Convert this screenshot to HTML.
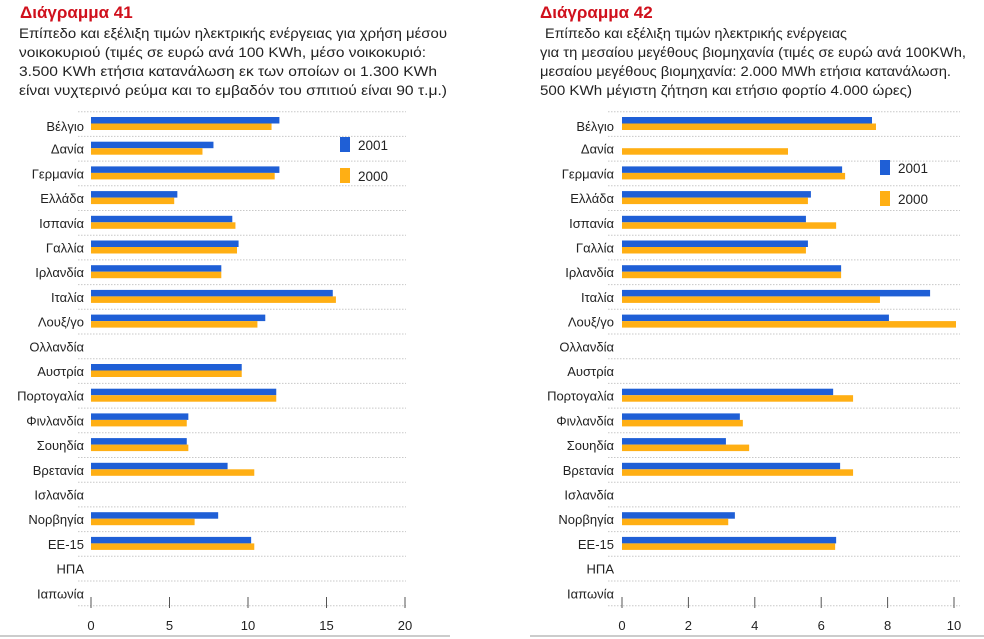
<!DOCTYPE html>
<html><head><meta charset="utf-8"><style>
html,body{margin:0;padding:0;background:#fff;width:984px;height:639px;overflow:hidden}
svg{display:block}
text{font-family:"Liberation Sans","DejaVu Sans",sans-serif}
</style></head><body>
<svg id="s" width="984" height="639">
<text x="20" y="18" font-size="17" font-weight="bold" fill="#d0101c">Διάγραμμα 41</text>
<g font-size="14" fill="#222" lengthAdjust="spacingAndGlyphs">
<text x="19" y="38" textLength="428" lengthAdjust="spacingAndGlyphs">Επίπεδο και εξέλιξη τιμών ηλεκτρικής ενέργειας για χρήση μέσου</text>
<text x="19" y="57" textLength="407" lengthAdjust="spacingAndGlyphs">νοικοκυριού (τιμές σε ευρώ ανά 100 KWh, μέσο νοικοκυριό:</text>
<text x="19" y="76" textLength="418" lengthAdjust="spacingAndGlyphs">3.500 KWh ετήσια κατανάλωση εκ των οποίων οι 1.300 KWh</text>
<text x="19" y="95" textLength="428" lengthAdjust="spacingAndGlyphs">είναι νυχτερινό ρεύμα και το εμβαδόν του σπιτιού είναι 90 τ.μ.)</text>
</g>
<text x="540" y="18" font-size="17" font-weight="bold" fill="#d0101c">Διάγραμμα 42</text>
<g font-size="14" fill="#222">
<text x="545" y="38" textLength="302" lengthAdjust="spacingAndGlyphs">Επίπεδο και εξέλιξη τιμών ηλεκτρικής ενέργειας</text>
<text x="540" y="57" textLength="426" lengthAdjust="spacingAndGlyphs">για τη μεσαίου μεγέθους βιομηχανία (τιμές σε ευρώ ανά 100KWh,</text>
<text x="540" y="76" textLength="411" lengthAdjust="spacingAndGlyphs">μεσαίου μεγέθους βιομηχανία: 2.000 MWh ετήσια κατανάλωση.</text>
<text x="540" y="95" textLength="372" lengthAdjust="spacingAndGlyphs">500 KWh μέγιστη ζήτηση και ετήσιο φορτίο 4.000 ώρες)</text>
</g>
<line x1="0" y1="636" x2="450" y2="636" stroke="#bbb" stroke-width="1.5"/>
<line x1="530" y1="636" x2="984" y2="636" stroke="#bbb" stroke-width="1.5"/>
</svg>
<script>
const countries=["Βέλγιο","Δανία","Γερμανία","Ελλάδα","Ισπανία","Γαλλία","Ιρλανδία","Ιταλία","Λουξ/γο","Ολλανδία","Αυστρία","Πορτογαλία","Φινλανδία","Σουηδία","Βρετανία","Ισλανδία","Νορβηγία","ΕΕ-15","ΗΠΑ","Ιαπωνία"];
const left2001=[12.0,7.8,12.0,5.5,9.0,9.4,8.3,15.4,11.1,null,9.6,11.8,6.2,6.1,8.7,null,8.1,10.2,null,null];
const left2000=[11.5,7.1,11.7,5.3,9.2,9.3,8.3,15.6,10.6,null,9.6,11.8,6.1,6.2,10.4,null,6.6,10.4,null,null];
const leftTicks=[0,5,10,15,20];
const right2001=[7.53,null,6.63,5.69,5.54,5.6,6.6,9.28,8.04,null,null,6.36,3.55,3.13,6.57,null,3.4,6.45,null,null];
const right2000=[7.65,5.0,6.72,5.6,6.45,5.54,6.6,7.77,10.06,null,null,6.96,3.64,3.83,6.96,null,3.2,6.42,null,null];
const rightTicks=[0,2,4,6,8,10];
const NS="http://www.w3.org/2000/svg";
const svg=document.getElementById('s');
function mk(t,a,p){const e=document.createElementNS(NS,t);for(const k in a)e.setAttribute(k,a[k]);(p||svg).appendChild(e);return e;}
function chart(id,x0,x1,max,ticks,s1,s2,labelX,gx0,gx1,legX,legY){
  const g=mk('g',{});
  
  
  const xs=v=>x0+(x1-x0)*v/max;
  const rowY=i=>124+i*24.7;
  for(let i=0;i<=countries.length;i++){
    const y=rowY(i)-12.3;
    const l=mk('line',{x1:gx0,x2:gx1,y1:y,y2:y,stroke:'#c8c8c8','stroke-width':1,'stroke-dasharray':'1.5 1.5'},g);
    
    
  }
  countries.forEach((c,i)=>{
    const y=rowY(i);
    const t=mk('text',{x:labelX,y:y+5+(i==0?2:0),'text-anchor':'end','font-size':13,fill:'#222'},g);t.textContent=c;
    
    
    if(s1[i]!=null){const r=mk('rect',{x:x0,y:y-7,width:xs(s1[i])-x0,height:6.5,fill:'#1f5fd6'},g);
      
      }
    if(s2[i]!=null){const r=mk('rect',{x:x0,y:y-0.5,width:xs(s2[i])-x0,height:6.5,fill:'#ffaf14'},g);
      
      }
  });
  ticks.forEach(v=>{
    const x=xs(v);
    mk('line',{x1:x,x2:x,y1:597,y2:608,stroke:'#555','stroke-width':1},g);
    const t=mk('text',{x:x,y:630,'text-anchor':'middle','font-size':13,fill:'#222'},g);t.textContent=v;
    
    
  });
  [['#1f5fd6','2001',0],['#ffaf14','2000',31]].forEach(([c,lab,dy])=>{
    const r=mk('rect',{x:legX,y:legY+dy,width:10,height:15,fill:c},g);
    
    
    const t=mk('text',{x:legX+18,y:legY+dy+13,'font-size':13.5,fill:'#222'},g);t.textContent=lab;
    
    
  });
}
chart('chart41',91,405,20,leftTicks,left2001,left2000,84,78,406,340,137);
chart('chart42',622,954,10,rightTicks,right2001,right2000,614,608,960,880,160);
</script>
</body></html>
